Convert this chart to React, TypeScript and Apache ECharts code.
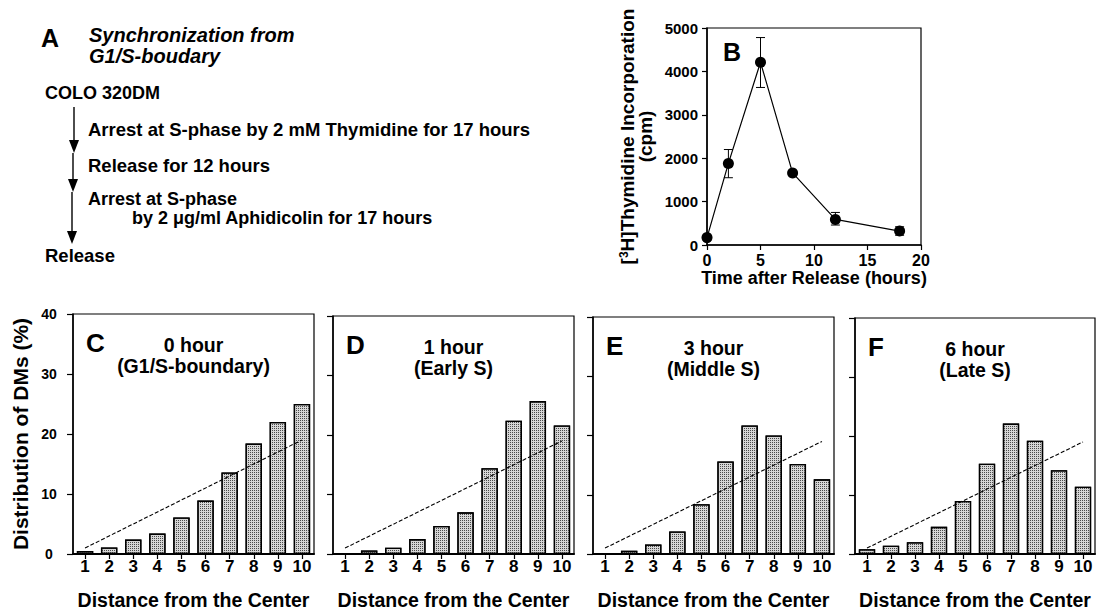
import React, { useEffect, useRef } from "react";
import * as echarts from "echarts";

// ---------- data ----------
const distanceCategories = ["1", "2", "3", "4", "5", "6", "7", "8", "9", "10"];
const distC = [0.5, 1.1, 2.4, 3.4, 6.1, 8.9, 13.6, 18.4, 22.0, 25.0];
const distD = [0.15, 0.6, 1.05, 2.5, 4.7, 7.0, 14.4, 22.4, 25.7, 21.6];
const distE = [0.15, 0.55, 1.6, 3.8, 8.4, 15.6, 21.7, 20.0, 15.2, 12.6];
const distF = [0.8, 1.4, 2.0, 4.6, 9.0, 15.3, 22.1, 19.2, 14.2, 11.4];
// dashed reference line: value at distance 1 and at distance 10
const trendLine = [
  ["1", 1.0],
  ["10", 19.0],
];

const timeHours = [0, 2, 5, 8, 12, 18];
const cpm = [170, 1880, 4210, 1660, 590, 320];
const cpmLow = [120, 1550, 3630, 1610, 460, 225];
const cpmHigh = [220, 2200, 4780, 1710, 750, 420];

const panelLetters = ["C", "D", "E", "F"];
const panelTimes = ["0 hour", "1 hour", "3 hour", "6 hour"];
const panelPhases = ["(G1/S-boundary)", "(Early S)", "(Middle S)", "(Late S)"];
const panelData = [distC, distD, distE, distF];

// ---------- layout ----------
const FONT = "'Liberation Sans', Arial, Helvetica, sans-serif";
const barGrids = [
  { left: 73, top: 314, width: 241, height: 241 },
  { left: 333, top: 316, width: 241, height: 240 },
  { left: 593, top: 317, width: 241, height: 240 },
  { left: 855, top: 318, width: 240, height: 240 },
];
const gridB = { left: 707, top: 28, width: 214, height: 217 };

export default function App() {
  const ref = useRef<HTMLDivElement>(null);

  useEffect(() => {
    document.body.style.margin = "0";
    if (!ref.current) return;
    const chart = echarts.init(ref.current, undefined, { renderer: "svg" });

    const grids: any[] = [
      { ...gridB, show: true, borderColor: "#000", borderWidth: 1.2, backgroundColor: "transparent" },
      ...barGrids.map((g) => ({ ...g, show: true, borderColor: "#000", borderWidth: 1.2, backgroundColor: "transparent" })),
    ];

    const xAxes: any[] = [
      {
        gridIndex: 0,
        type: "value",
        min: 0,
        max: 20,
        interval: 5,
        splitLine: { show: false },
        axisLine: { lineStyle: { color: "#000", width: 1.5 } },
        axisTick: { show: true, inside: false, length: 5, lineStyle: { color: "#000", width: 1.2 } },
        axisLabel: { color: "#000", fontSize: 16, fontWeight: "bold", fontFamily: FONT, margin: 7 },
        name: "Time after Release (hours)",
        nameLocation: "middle",
        nameGap: 21,
        nameTextStyle: { color: "#000", fontSize: 18, fontWeight: "bold", fontFamily: FONT },
      },
      ...barGrids.map((_, i) => ({
        gridIndex: i + 1,
        type: "category",
        data: distanceCategories,
        boundaryGap: true,
        axisLine: { lineStyle: { color: "#000", width: 2 } },
        axisTick: { show: true, alignWithLabel: true, inside: false, length: 5, lineStyle: { color: "#000", width: 1.2 } },
        axisLabel: { color: "#000", fontSize: 17, fontWeight: "bold", fontFamily: FONT, margin: 4, interval: 0 },
        name: "Distance from the Center",
        nameLocation: "middle",
        nameGap: 36,
        nameTextStyle: { color: "#000", fontSize: 19.5, fontWeight: "bold", fontFamily: FONT },
      })),
    ];

    const yAxes: any[] = [
      {
        gridIndex: 0,
        type: "value",
        min: 0,
        max: 5000,
        interval: 1000,
        splitLine: { show: false },
        axisLine: { show: true, lineStyle: { color: "#000", width: 1.5 } },
        axisTick: { show: true, inside: false, length: 5, lineStyle: { color: "#000", width: 1.2 } },
        axisLabel: {
          color: "#000",
          fontSize: 15,
          fontWeight: "bold",
          fontFamily: FONT,
          margin: 9,
          formatter: (v: number) => String(v),
        },
        name: "[{sup|3}H]Thymidine Incorporation\n(cpm)",
        nameLocation: "middle",
        nameRotate: 90,
        nameGap: 53,
        nameTextStyle: {
          color: "#000",
          fontSize: 19,
          fontWeight: "bold",
          fontFamily: FONT,
          lineHeight: 18,
          rich: {
            sup: { fontSize: 12, fontWeight: "bold", fontFamily: FONT, color: "#000", verticalAlign: "top", lineHeight: 18, padding: [0, 0, 7, 0] },
          },
        },
      },
      ...barGrids.map((_, i) => ({
        gridIndex: i + 1,
        type: "value",
        min: 0,
        max: 40,
        interval: 10,
        splitLine: { show: false },
        axisLine: { show: true, lineStyle: { color: "#000", width: 1.5 } },
        axisTick: { show: true, inside: false, length: 6, lineStyle: { color: "#000", width: 1.2 } },
        axisLabel: {
          show: i === 0,
          color: "#000",
          fontSize: 14,
          fontWeight: "bold",
          fontFamily: FONT,
          align: "center",
          margin: 24,
        },
        name: i === 0 ? "Distribution of DMs (%)" : "",
        nameLocation: "middle",
        nameRotate: 90,
        nameGap: 42,
        nameTextStyle: { color: "#000", fontSize: 21, fontWeight: "bold", fontFamily: FONT },
      })),
    ];

    const series: any[] = [
      {
        type: "custom",
        xAxisIndex: 0,
        yAxisIndex: 0,
        z: 1,
        data: timeHours.map((t, i) => [t, cpmLow[i], cpmHigh[i]]),
        encode: { x: 0, y: [1, 2] },
        renderItem: (params: any, api: any) => {
          const x = api.value(0);
          const lo = api.coord([x, api.value(1)]);
          const hi = api.coord([x, api.value(2)]);
          const w = 4.5;
          const st = { stroke: "#000", lineWidth: 1 };
          return {
            type: "group",
            children: [
              { type: "line", shape: { x1: lo[0], y1: lo[1], x2: hi[0], y2: hi[1] }, style: st },
              { type: "line", shape: { x1: lo[0] - w, y1: lo[1], x2: lo[0] + w, y2: lo[1] }, style: st },
              { type: "line", shape: { x1: hi[0] - w, y1: hi[1], x2: hi[0] + w, y2: hi[1] }, style: st },
            ],
          };
        },
      },
      {
        type: "line",
        xAxisIndex: 0,
        yAxisIndex: 0,
        z: 3,
        data: timeHours.map((t, i) => [t, cpm[i]]),
        symbol: "circle",
        symbolSize: 11,
        itemStyle: { color: "#000" },
        lineStyle: { color: "#000", width: 1.2 },
      },
      ...panelData.flatMap((vals, i) => [
        {
          type: "bar",
          xAxisIndex: i + 1,
          yAxisIndex: i + 1,
          data: vals,
          barWidth: "68%",
          itemStyle: {
            color: "#d6d6d6",
            borderColor: "#000",
            borderWidth: 1.3,
            decal: {
              symbol: "rect",
              symbolSize: 1,
              dashArrayX: [1, 1],
              dashArrayY: [1, 1],
              color: "#4a4a4a",
              backgroundColor: "#dcdcdc",
            },
          },
        },
        {
          type: "line",
          xAxisIndex: i + 1,
          yAxisIndex: i + 1,
          data: trendLine,
          symbol: "none",
          z: 4,
          lineStyle: { color: "#000", width: 1.1, type: [4, 2] },
        },
      ]),
    ];

    const txt = (text: string, x: number, y: number, size: number, extra: any = {}) => ({
      type: "text",
      x,
      y,
      style: {
        text,
        fontSize: size,
        fontWeight: "bold",
        fontFamily: FONT,
        fill: "#000",
        textAlign: "left",
        textVerticalAlign: "middle",
        ...extra,
      },
    });

    const graphics: any[] = [
      // panel A
      txt("A", 41, 38, 25),
      txt("Synchronization from", 89, 35, 20, { fontStyle: "italic" }),
      txt("G1/S-boudary", 89, 55.5, 20, { fontStyle: "italic" }),
      txt("COLO 320DM", 45, 93, 18),
      txt("Arrest at S-phase by 2 mM Thymidine for 17 hours", 88, 129, 18.5),
      txt("Release for 12 hours", 88, 165, 18.5),
      txt("Arrest at S-phase", 88, 199, 18),
      txt("by 2 \u03bcg/ml Aphidicolin for 17 hours", 132, 218, 18),
      txt("Release", 45, 255, 18.5),
      { type: "line", shape: { x1: 74, y1: 107, x2: 74, y2: 142 }, style: { stroke: "#000", lineWidth: 1.4 } },
      { type: "polygon", shape: { points: [[69, 140], [79, 140], [74, 153]] }, style: { fill: "#000" } },
      { type: "line", shape: { x1: 73, y1: 153, x2: 73, y2: 181 }, style: { stroke: "#000", lineWidth: 1.4 } },
      { type: "polygon", shape: { points: [[68, 179], [78, 179], [73, 192]] }, style: { fill: "#000" } },
      { type: "line", shape: { x1: 72, y1: 192, x2: 72, y2: 233 }, style: { stroke: "#000", lineWidth: 1.4 } },
      { type: "polygon", shape: { points: [[67, 231], [77, 231], [72, 244]] }, style: { fill: "#000" } },
      // panel B letter
      txt("B", 723, 52, 25),
      // panels C-F titles
      ...barGrids.flatMap((g, i) => [
        txt(panelLetters[i], g.left + 13, g.top + 29, 26),
        txt(panelTimes[i], g.left + g.width / 2, g.top + 31, 19.5, { textAlign: "center" }),
        txt(panelPhases[i], g.left + g.width / 2, g.top + 51.5, 19.5, { textAlign: "center" }),
      ]),
    ];

    chart.setOption({
      animation: false,
      backgroundColor: "#fff",
      grid: grids,
      xAxis: xAxes,
      yAxis: yAxes,
      series,
      graphic: graphics,
    });

    return () => chart.dispose();
  }, []);

  return <div ref={ref} style={{ width: 1096, height: 611 }} />;
}
